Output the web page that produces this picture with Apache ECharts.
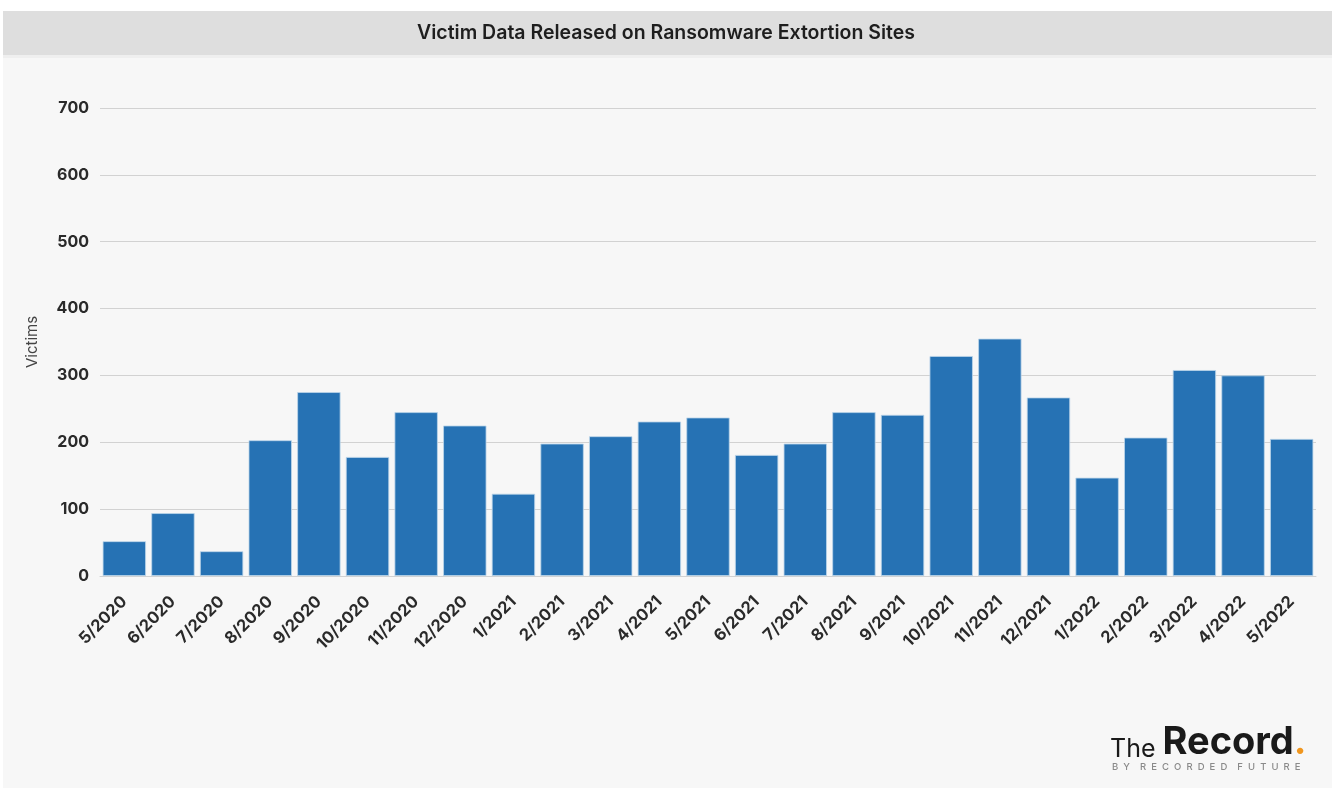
<!DOCTYPE html>
<html>
<head>
<meta charset="utf-8">
<script src="https://cdn.jsdelivr.net/npm/echarts@6/dist/echarts.min.js"></script>
<style>html,body{margin:0;padding:0;background:#fff;}#c{width:1332px;height:788px;}</style>
</head>
<body>
<div id="c"></div>
<script>
const categories = ["5/2020","6/2020","7/2020","8/2020","9/2020","10/2020","11/2020","12/2020","1/2021","2/2021","3/2021","4/2021","5/2021","6/2021","7/2021","8/2021","9/2021","10/2021","11/2021","12/2021","1/2022","2/2022","3/2022","4/2022","5/2022"];
const victims = [52,94,37,203,275,178,245,225,123,198,209,231,237,181,198,245,241,329,355,267,147,207,308,300,205];
const yTicks = [0,100,200,300,400,500,600,700];

const FONT = 'Inter, "Noto Sans", sans-serif';
const chart = echarts.init(document.getElementById('c'));
chart.setOption({
  backgroundColor: '#f7f7f7',
  animation: false,
  graphic: [
    {type:'rect', shape:{x:0,y:0,width:1332,height:11}, style:{fill:'#ffffff'}, z:-1},
    {type:'rect', shape:{x:0,y:0,width:3,height:788}, style:{fill:'#ffffff'}, z:-1},
    {type:'rect', shape:{x:3,y:11,width:1329,height:44}, style:{fill:'#dedede'}, z:-1},
    {type:'rect', shape:{x:3,y:55,width:1329,height:3}, style:{fill:'#efefef'}, z:-1},
    {type:'text', left:'center', top:23, style:{text:'Victim Data Released on Ransomware Extortion Sites', font:'600 19.5px ' + FONT, fill:'#1e1e1e'}},
    {type:'text', x:1110, y:722, style:{
      text:'{a|The }{b|Record}{c|.}',
      rich:{
        a:{fontFamily:FONT, fontSize:25, fontWeight:400, fill:'#1a1a1a', verticalAlign:'bottom', lineHeight:40},
        b:{fontFamily:FONT, fontSize:38, fontWeight:700, fill:'#1a1a1a', verticalAlign:'bottom', lineHeight:40},
        c:{fontFamily:FONT, fontSize:38, fontWeight:700, fill:'#f0961e', verticalAlign:'bottom', lineHeight:40}
      }}},
    {type:'text', x:1112, y:762, style:{text:'B  Y    R  E  C  O  R  D  E  D    F  U  T  U  R  E', font:'500 9.5px ' + FONT, fill:'#8a8a8a'}}
  ],
  grid: {left:100, right:16, top:108, bottom:212},
  xAxis: {
    type:'category', data: categories,
    axisLine:{show:true, lineStyle:{color:'#d2d2d2', width:1}},
    axisTick:{show:false},
    axisLabel:{rotate:45, interval:0, fontFamily:FONT, fontWeight:'bold', fontSize:16.5, color:'#2a2a2a', margin:23}
  },
  yAxis: {
    type:'value', min:0, max:700, interval:100,
    name:'Victims', nameLocation:'middle', nameGap:60, nameRotate:90,
    nameTextStyle:{fontFamily:FONT, fontSize:15, color:'#444'},
    axisLine:{show:false}, axisTick:{show:false},
    axisLabel:{fontFamily:FONT, fontWeight:'bold', fontSize:16, color:'#2a2a2a', margin:11,
      formatter: v => yTicks.includes(v) ? String(v) : ''},
    splitLine:{lineStyle:{color:'#d2d2d2', width:1}}
  },
  series: [{
    type:'bar', data: victims, barCategoryGap:'11%',
    itemStyle:{color:'#2672b4', borderColor:'#bcd6ea', borderWidth:0.8}
  }]
});
</script>
</body>
</html>
